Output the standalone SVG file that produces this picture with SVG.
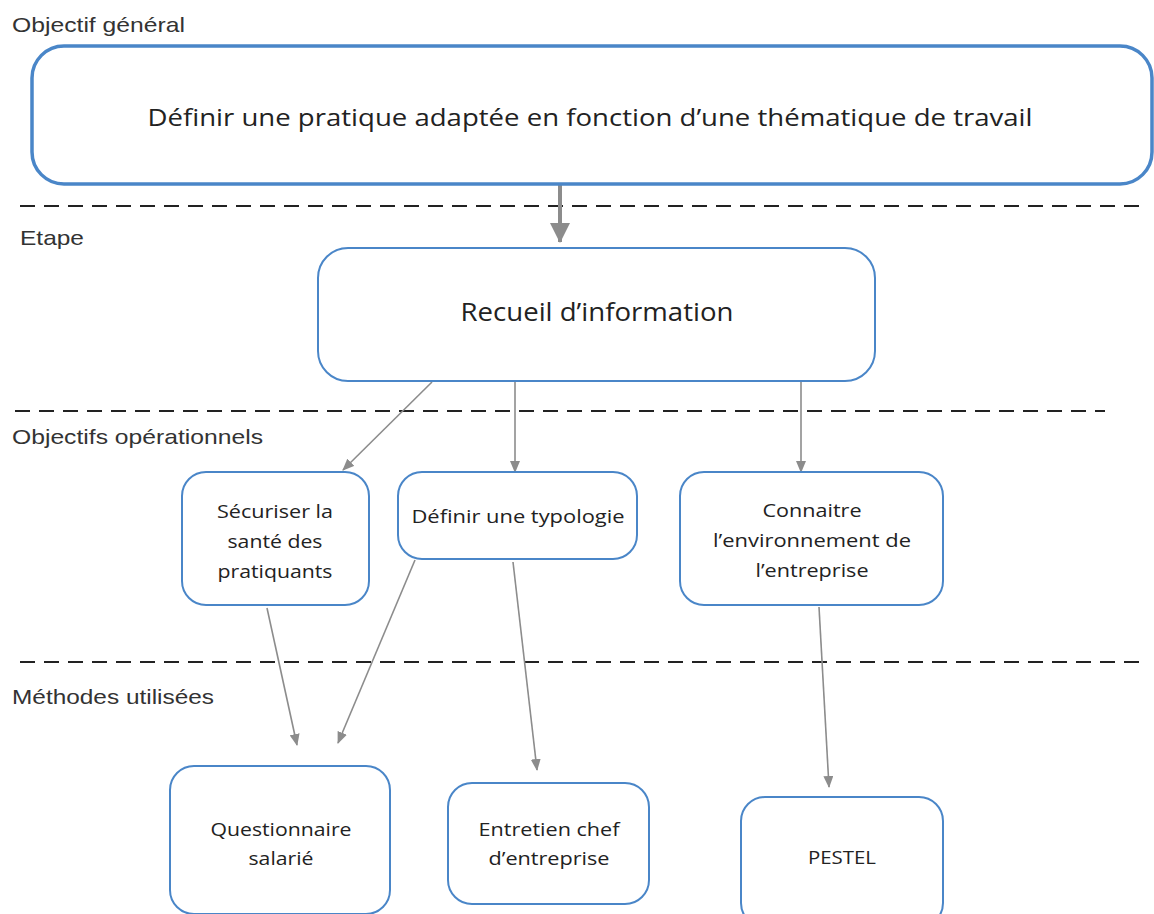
<svg xmlns="http://www.w3.org/2000/svg" width="1154" height="914" viewBox="0 0 1154 914">
<style>
.lbl{font-family:"Liberation Sans",Arial,sans-serif;font-size:21px;fill:#333}
.box{fill:#fff;stroke:#4a86c8;stroke-width:2}
.big{stroke-width:3.5}
.t{font-family:"Open Sans","Noto Sans",sans-serif;fill:#222;text-anchor:middle;lengthAdjust:spacingAndGlyphs}
.dash{stroke:#222;stroke-width:2;stroke-dasharray:15 9;fill:none}
.conn{stroke:#8c8c8c;stroke-width:1.6;fill:none}
</style>
<defs>
<marker id="ah" markerWidth="12" markerHeight="10" refX="11" refY="5" orient="auto" markerUnits="userSpaceOnUse">
<path d="M0,0 L12,5 L0,10 Z" fill="#8c8c8c"/>
</marker>
<marker id="ahBig" markerWidth="20" markerHeight="20" refX="19" refY="10" orient="auto" markerUnits="userSpaceOnUse">
<path d="M0,0 L20,10 L0,20 Z" fill="#8c8c8c"/>
</marker>
</defs>
<rect width="1154" height="914" fill="#fff"/>
<g id="labels">
<text class="lbl" x="12" y="32" textLength="173" lengthAdjust="spacingAndGlyphs">Objectif général</text>
<text class="lbl" x="20" y="245" textLength="64" lengthAdjust="spacingAndGlyphs">Etape</text>
<text class="lbl" x="12" y="444" textLength="251" lengthAdjust="spacingAndGlyphs">Objectifs opérationnels</text>
<text class="lbl" x="12" y="704" textLength="202" lengthAdjust="spacingAndGlyphs">Méthodes utilisées</text>
</g>
<g id="separators">
<line class="dash" x1="20" y1="206" x2="1145" y2="206"/>
<line class="dash" x1="15" y1="411" x2="1105" y2="411"/>
<line class="dash" x1="20" y1="662" x2="1145" y2="662"/>
</g>
<g id="connectors">
<line x1="560" y1="185" x2="560" y2="242" stroke="#8c8c8c" stroke-width="4" marker-end="url(#ahBig)"/>
<line class="conn" x1="432" y1="382" x2="343" y2="470" marker-end="url(#ah)"/>
<line class="conn" x1="515" y1="382" x2="515" y2="472" marker-end="url(#ah)"/>
<line class="conn" x1="801" y1="382" x2="801" y2="472" marker-end="url(#ah)"/>
<line class="conn" x1="267" y1="608" x2="297" y2="745" marker-end="url(#ah)"/>
<line class="conn" x1="415" y1="560" x2="338" y2="743" marker-end="url(#ah)"/>
<line class="conn" x1="513" y1="562" x2="537" y2="770" marker-end="url(#ah)"/>
<line class="conn" x1="819" y1="607" x2="829" y2="787" marker-end="url(#ah)"/>
</g>
<g id="n-general">
<rect class="box big" x="32" y="46" width="1120" height="138" rx="32"/>
<text class="t" x="590" y="126" font-size="24" textLength="885" lengthAdjust="spacingAndGlyphs">Définir une pratique adaptée en fonction d’une thématique de travail</text>
</g>
<g id="n-recueil">
<rect class="box" x="318" y="248" width="557" height="133" rx="30"/>
<text class="t" x="597" y="321" font-size="26" textLength="273" lengthAdjust="spacingAndGlyphs">Recueil d’information</text>
</g>
<g id="n-securiser">
<rect class="box" x="182" y="472" width="187" height="133" rx="24"/>
<text class="t" x="275" y="518" font-size="18" textLength="116" lengthAdjust="spacingAndGlyphs">Sécuriser la</text>
<text class="t" x="275" y="548" font-size="18" textLength="95" lengthAdjust="spacingAndGlyphs">santé des</text>
<text class="t" x="275" y="578" font-size="18" textLength="115" lengthAdjust="spacingAndGlyphs">pratiquants</text>
</g>
<g id="n-typologie">
<rect class="box" x="398" y="472" width="239" height="87" rx="24"/>
<text class="t" x="518" y="523" font-size="18" textLength="213" lengthAdjust="spacingAndGlyphs">Définir une typologie</text>
</g>
<g id="n-connaitre">
<rect class="box" x="680" y="472" width="263" height="133" rx="24"/>
<text class="t" x="812" y="517" font-size="18" textLength="99" lengthAdjust="spacingAndGlyphs">Connaitre</text>
<text class="t" x="812" y="547" font-size="18" textLength="198" lengthAdjust="spacingAndGlyphs">l’environnement de</text>
<text class="t" x="812" y="577" font-size="18" textLength="113" lengthAdjust="spacingAndGlyphs">l’entreprise</text>
</g>
<g id="n-questionnaire">
<rect class="box" x="170" y="766" width="220" height="148" rx="24"/>
<text class="t" x="281" y="836" font-size="18" textLength="141" lengthAdjust="spacingAndGlyphs">Questionnaire</text>
<text class="t" x="281" y="865" font-size="18" textLength="65" lengthAdjust="spacingAndGlyphs">salarié</text>
</g>
<g id="n-entretien">
<rect class="box" x="448" y="783" width="201" height="121" rx="24"/>
<text class="t" x="549" y="836" font-size="18" textLength="141" lengthAdjust="spacingAndGlyphs">Entretien chef</text>
<text class="t" x="549" y="865" font-size="18" textLength="121" lengthAdjust="spacingAndGlyphs">d’entreprise</text>
</g>
<g id="n-pestel">
<rect class="box" x="741" y="797" width="202" height="130" rx="24"/>
<text class="t" x="842" y="864" font-size="18" textLength="68" lengthAdjust="spacingAndGlyphs">PESTEL</text>
</g>
</svg>
